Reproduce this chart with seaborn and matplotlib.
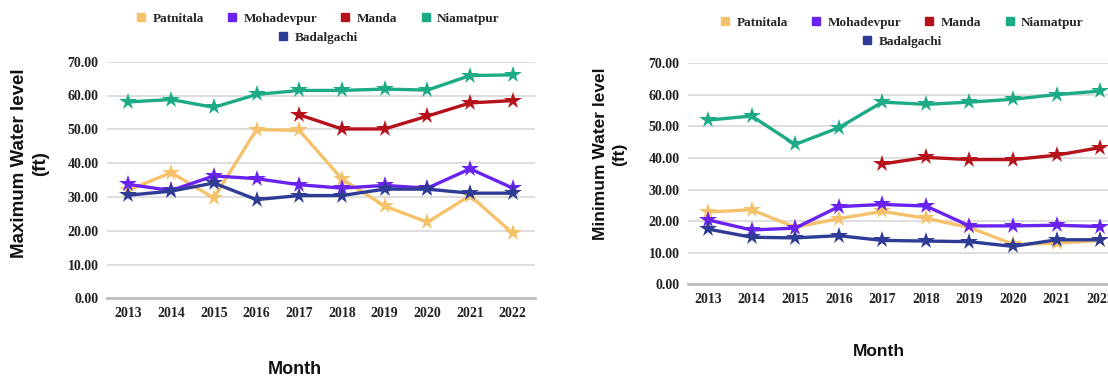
import numpy as np
import pandas as pd
import seaborn as sns
import matplotlib.pyplot as plt
from matplotlib.lines import Line2D
from matplotlib.ticker import FormatStrFormatter

# data
years = [2013, 2014, 2015, 2016, 2017, 2018, 2019, 2020, 2021, 2022]
sites = ['Patnitala', 'Mohadevpur', 'Manda', 'Niamatpur', 'Badalgachi']
colors = ['#F5C26B', '#6A22F0', '#B5121B', '#1DAA86', '#2F3C96']

max_patnitala = [32.0, 37.2, 29.7, 49.9, 49.7, 35.3, 27.3, 22.5, 30.4, 19.2]
max_mohadevpur = [33.7, 31.9, 36.2, 35.4, 33.6, 32.6, 33.4, 32.6, 38.3, 32.6]
max_manda = [np.nan, np.nan, np.nan, np.nan, 54.3, 50.1, 50.1, 53.9, 57.8, 58.5]
max_niamatpur = [58.1, 58.8, 56.5, 60.3, 61.5, 61.5, 61.9, 61.6, 65.9, 66.1]
max_badalgachi = [30.5, 31.7, 34.1, 29.2, 30.4, 30.4, 32.3, 32.3, 31.1, 31.1]

min_patnitala = [22.9, 23.6, 18.1, 20.8, 23.1, 20.9, 18.0, 12.7, 13.0, 13.9]
min_mohadevpur = [20.4, 17.2, 17.8, 24.6, 25.3, 24.8, 18.5, 18.5, 18.7, 18.3]
min_manda = [np.nan, np.nan, np.nan, np.nan, 38.1, 40.2, 39.5, 39.5, 40.9, 43.3]
min_niamatpur = [52.0, 53.3, 44.3, 49.6, 57.7, 57.0, 57.7, 58.6, 60.1, 61.2]
min_badalgachi = [17.5, 14.9, 14.7, 15.4, 13.9, 13.7, 13.5, 12.0, 14.1, 14.1]


def long_df(series):
    rows = []
    for site, vals in zip(sites, series):
        for y, v in zip(years, vals):
            rows.append({'year': y, 'site': site, 'level': v})
    return pd.DataFrame(rows).dropna()


df_max = long_df([max_patnitala, max_mohadevpur, max_manda, max_niamatpur, max_badalgachi])
df_min = long_df([min_patnitala, min_mohadevpur, min_manda, min_niamatpur, min_badalgachi])

sns.set_style('white')
plt.rcParams['font.family'] = ['Liberation Serif', 'DejaVu Serif']

fig = plt.figure(figsize=(11.08, 3.82), dpi=100)
W, H = 1108, 382
ax1 = fig.add_axes([107 / W, 1 - 298.3 / H, 428 / W, 236.6 / H])
ax2 = fig.add_axes([688 / W, 1 - 284.3 / H, 420 / W, 221 / H])


def draw(ax, df, xlim):
    sns.lineplot(data=df, x='year', y='level', hue='site', hue_order=sites,
                 palette=colors, marker='*', markersize=13, linewidth=2.4,
                 markeredgewidth=0, legend=False, ax=ax, zorder=3)
    ax.set_ylim(0, 70)
    ax.set_yticks(range(0, 71, 10))
    ax.yaxis.set_major_formatter(FormatStrFormatter('%.2f'))
    ax.set_xticks(years)
    ax.set_xlim(*xlim)
    ax.grid(axis='y', color='#dedede', linewidth=1.4, zorder=0)
    ax.set_axisbelow(True)
    for s in ['top', 'right', 'left']:
        ax.spines[s].set_visible(False)
    ax.spines['bottom'].set_color('#bdbdbd')
    ax.spines['bottom'].set_linewidth(2)
    ax.tick_params(length=0, pad=6, labelsize=10)
    for lab in ax.get_xticklabels() + ax.get_yticklabels():
        lab.set_fontweight('bold')
        lab.set_color('#222222')
    ax.set_xlabel('')
    ax.set_ylabel('')


draw(ax1, df_max, (2012.5, 2022.52))
draw(ax2, df_min, (2012.54, 2022.18))

lab_font = dict(family=['Liberation Sans', 'DejaVu Sans'], fontweight='bold', color='#111111')
fig.text(30 / W, 1 - 163.5 / H, 'Maximum Water level\n(ft)', rotation=90, ha='center', va='center',
         fontsize=13.5, linespacing=1.25, multialignment='center', **lab_font)
fig.text(610 / W, 1 - 154 / H, 'Minimum Water level\n(ft)', rotation=90, ha='center', va='center',
         fontsize=12.5, linespacing=1.35, multialignment='center', **lab_font)
fig.text(295 / W, 1 - 370 / H, 'Month', ha='center', va='center', fontsize=13, **lab_font)
fig.text(879 / W, 1 - 352 / H, 'Month', ha='center', va='center', fontsize=12.5, **lab_font)


def legends(cx, y1, y2):
    handles = [Line2D([], [], marker='s', ls='', color=c, markersize=6) for c in colors]
    kw = dict(loc='center', frameon=False, handlelength=0.7, handletextpad=0.5,
              columnspacing=1.8, prop={'weight': 'bold', 'size': 9.5})
    fig.legend(handles[:4], sites[:4], ncol=4, bbox_to_anchor=(cx / W, 1 - y1 / H), **kw)
    fig.legend(handles[4:], sites[4:], ncol=1, bbox_to_anchor=(cx / W, 1 - y2 / H), **kw)


legends(318, 19, 38)
legends(902, 23, 42)

fig.savefig('out.png', dpi=100)
